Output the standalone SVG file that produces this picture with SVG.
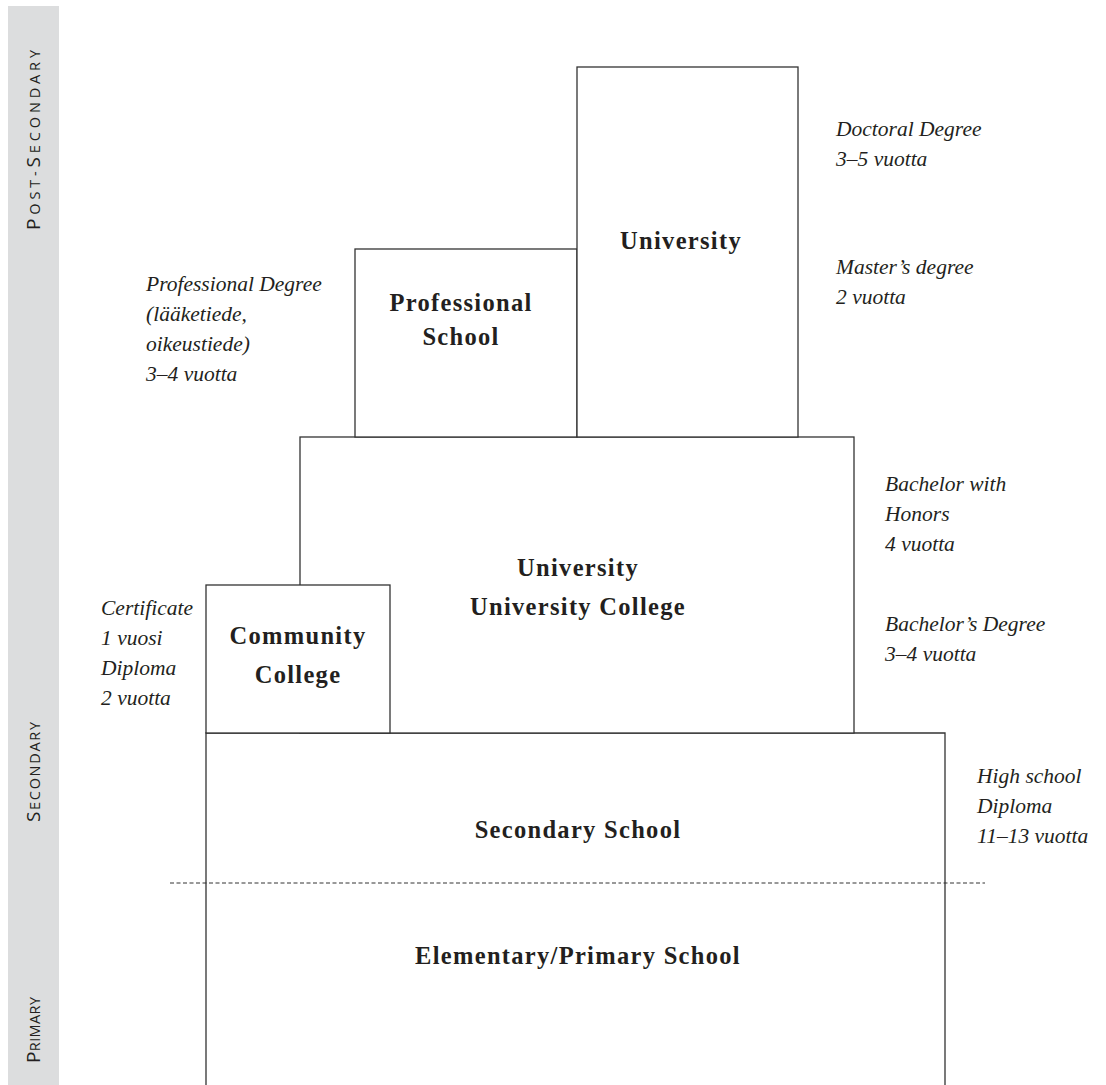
<svg xmlns="http://www.w3.org/2000/svg" width="1106" height="1085" viewBox="0 0 1106 1085">
<style>
.box{fill:#ffffff;stroke:#333333;stroke-width:1.3}
.edge{fill:none;stroke:#333333;stroke-width:1.3}
.lbl{font-family:"Liberation Serif",serif;font-weight:bold;font-size:24.5px;letter-spacing:1.3px;fill:#231f20;text-anchor:middle}
.it{font-family:"Liberation Serif",serif;font-style:italic;font-size:21.5px;fill:#231f20}
.side{font-family:"Open Sans","Liberation Sans",sans-serif;font-size:19px;fill:#231f20;text-anchor:middle}
.sc{font-size:14.5px}
</style>
<rect id="sidebar" x="8" y="6" width="51" height="1085" fill="#dcddde"/>
<g id="sidebar-labels">
<text class="side" transform="translate(40,140) rotate(-90)" textLength="180" lengthAdjust="spacing">P<tspan class="sc">OST-</tspan>S<tspan class="sc">ECONDARY</tspan></text>
<text class="side" transform="translate(40,772) rotate(-90)" textLength="100" lengthAdjust="spacing">S<tspan class="sc">ECONDARY</tspan></text>
<text class="side" transform="translate(40,1030) rotate(-90)" textLength="66" lengthAdjust="spacing">P<tspan class="sc">RIMARY</tspan></text>
</g>
<g id="secondary-primary">
<path class="edge" d="M206,1090 V733 H945 V1090"/>
<text class="lbl" x="578" y="838">Secondary School</text>
<text class="lbl" x="578" y="964">Elementary/Primary School</text>
</g>
<g id="university-college">
<rect class="box" x="300" y="437" width="554" height="296"/>
<text class="lbl" x="578" y="576">University</text>
<text class="lbl" x="578" y="615">University College</text>
</g>
<g id="community-college">
<rect class="box" x="206" y="585" width="184" height="148"/>
<text class="lbl" x="298" y="644">Community</text>
<text class="lbl" x="298" y="683">College</text>
</g>
<g id="professional-school">
<rect class="box" x="355" y="249" width="222" height="188"/>
<text class="lbl" x="461" y="311">Professional</text>
<text class="lbl" x="461" y="345">School</text>
</g>
<g id="university">
<rect class="box" x="577" y="67" width="221" height="370"/>
<text class="lbl" x="681" y="249">University</text>
</g>
<g id="connectors">
<line x1="170" y1="883" x2="985" y2="883" stroke="#333333" stroke-width="1" stroke-dasharray="4,2.5"/>
</g>
<g id="annotations">
<text class="it" x="836" y="136">Doctoral Degree</text>
<text class="it" x="836" y="166">3–5 vuotta</text>
<text class="it" x="836" y="274">Master’s degree</text>
<text class="it" x="836" y="304">2 vuotta</text>
<text class="it" x="146" y="291">Professional Degree</text>
<text class="it" x="146" y="321">(lääketiede,</text>
<text class="it" x="146" y="351">oikeustiede)</text>
<text class="it" x="146" y="381">3–4 vuotta</text>
<text class="it" x="885" y="491">Bachelor with</text>
<text class="it" x="885" y="521">Honors</text>
<text class="it" x="885" y="551">4 vuotta</text>
<text class="it" x="885" y="631">Bachelor’s Degree</text>
<text class="it" x="885" y="661">3–4 vuotta</text>
<text class="it" x="101" y="615">Certificate</text>
<text class="it" x="101" y="645">1 vuosi</text>
<text class="it" x="101" y="675">Diploma</text>
<text class="it" x="101" y="705">2 vuotta</text>
<text class="it" x="977" y="783">High school</text>
<text class="it" x="977" y="813">Diploma</text>
<text class="it" x="977" y="843">11–13 vuotta</text>
</g>
</svg>
